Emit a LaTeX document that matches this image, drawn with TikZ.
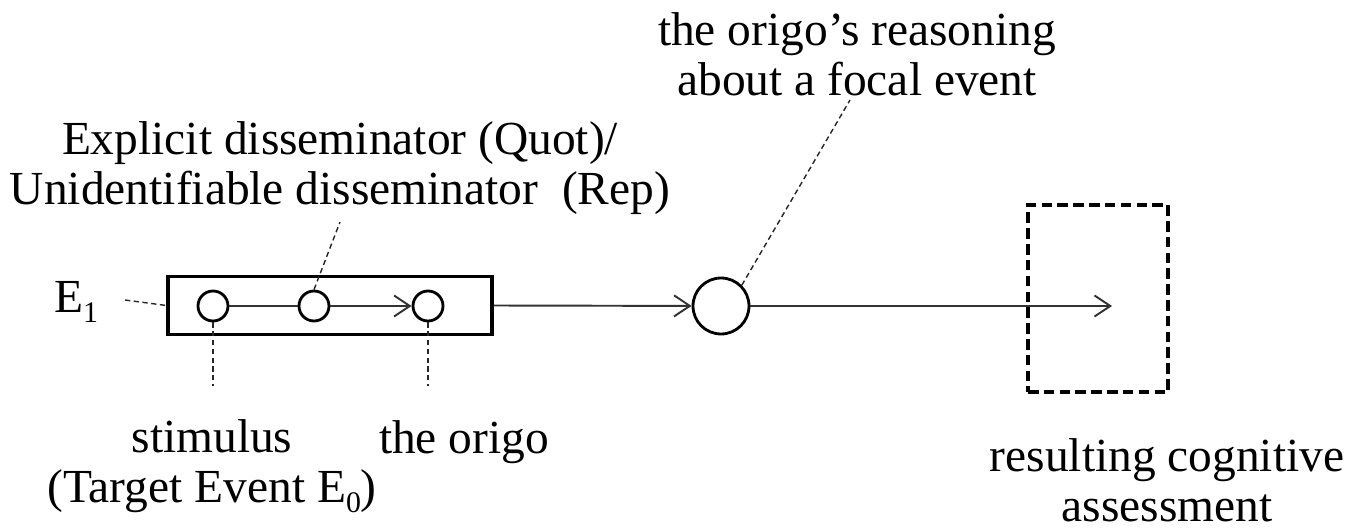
\documentclass[tikz,border=0pt]{standalone}
\usepackage{fontspec}
\setmainfont{Liberation Serif}
\usetikzlibrary{arrows.meta}
\newcommand{\lowsub}[1]{\raisebox{-0.45ex}{\fontsize{17}{17}\selectfont #1}}
\begin{document}
\begin{tikzpicture}[x=0.02cm,y=-0.02cm,
  txt/.style={inner sep=0pt,align=center,font=\fontsize{27}{28.5}\selectfont},
  event/.style={circle,draw,line width=1.6pt,fill=white,inner sep=0pt,minimum size=0.6cm},
  flow/.style={line width=1.1pt,draw=black!80,-{Straight Barb[length=9pt,width=12pt,line width=1.1pt]}},
  leader/.style={line width=0.8pt,dash pattern=on 3pt off 2pt,draw=black!85}]
\useasboundingbox (0,0) rectangle (1356,530);

% the embedding event E1 and its inner events
\node[draw,line width=1.8pt,inner sep=0pt,minimum width=6.48cm,minimum height=1.16cm] (box) at (330,305.5) {};
\node[event] (stim) at (213,306) {};
\node[event] (diss) at (314,306) {};
\node[event] (origo) at (428,306) {};
\draw[line width=1.1pt,draw=black!80] (stim) -- (diss);
\draw[flow] (diss) -- (origo);

% reasoning and its outcome
\node[event,minimum size=1.12cm] (reason) at (721,306) {};
\node[draw,line width=1.8pt,dash pattern=on 6pt off 3pt,inner sep=0pt,minimum width=2.8cm,minimum height=3.74cm] (result) at (1098,298.5) {};
\coordinate (tip) at (1112,306);
\draw[flow] (box.east) -- (reason);
\draw[flow] (reason) -- (tip);

% labels
\node[txt] (lreason) at (857,54) {the origo's reasoning\\about a focal event};
\node[txt] (ldiss) at (340,168) {Explicit disseminator (Quot)/\\Unidentifiable disseminator\ \ (Rep)};
\node[txt] (le1) at (76,302) {E\lowsub{1}};
\node[txt] (lstim) at (212,466) {stimulus\\(Target Event E\lowsub{0})};
\node[txt] (lorigo) at (464,442) {the origo};
\node[txt] (lresult) at (1167,480) {resulting cognitive\\assessment};

% leader lines
\coordinate (e1end) at (125,300);
\coordinate (dissend) at (340,222);
\coordinate (reasonend) at (850,100);
\coordinate (stimend) at (213,386);
\coordinate (origoend) at (428,386);
\draw[leader] (e1end) -- (box.west);
\draw[leader] (diss.north) -- (dissend);
\draw[leader] (reason.north east) -- (reasonend);
\draw[leader] (stim.south) -- (stimend);
\draw[leader] (origo.south) -- (origoend);
\end{tikzpicture}
\end{document}
